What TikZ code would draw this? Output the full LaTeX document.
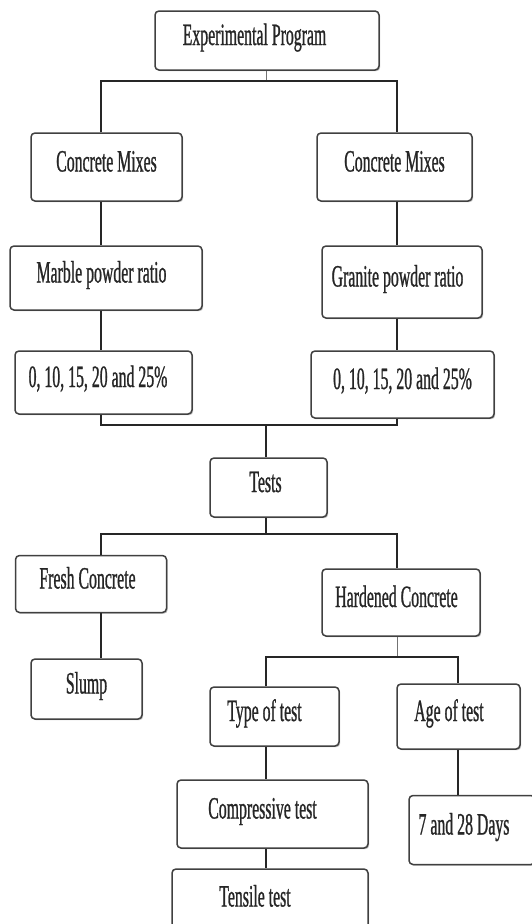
\documentclass[tikz,border=0pt]{standalone}
\usepackage{fontspec}
\setmainfont{Liberation Serif}[FakeStretch=0.51, FakeBold=0.8]
\usetikzlibrary{shadows}

\tikzset{
    box/.style={draw=black!75, line width=1.5pt, rounded corners=4pt, fill=white,
        text=black!85, font=\fontsize{31}{33}\selectfont,
        text height=19pt, text depth=10pt, inner sep=0pt,
        drop shadow={shadow xshift=1.2pt, shadow yshift=-1.2pt, fill=black!45, opacity=0.6}},
    link/.style={draw=black!85, line width=1.4pt},
    stub/.style={draw=black!55, line width=0.8pt},
}

\begin{document}
\begin{tikzpicture}[x=1pt, y=-1pt]
    \useasboundingbox (0,0) rectangle (531,924);

    \node[box, minimum width=224, minimum height=59] (prog) at (267,40.5) {Experimental Program\hspace*{25pt}};

    \node[box, minimum width=151, minimum height=68] (mixL) at (106.5,167) {Concrete Mixes};
    \node[box, minimum width=155, minimum height=68] (mixR) at (394.5,167) {Concrete Mixes};
    \node[box, minimum width=192, minimum height=64] (marble) at (106,278) {Marble powder ratio\hspace*{9pt}};
    \node[box, minimum width=160, minimum height=72] (granite) at (402,282) {Granite powder ratio\hspace*{9pt}};
    \node[box, minimum width=177, minimum height=63] (pctL) at (103.5,382.5) {0, 10, 15, 20 and 25\%\hspace*{11pt}};
    \node[box, minimum width=183, minimum height=67] (pctR) at (402.5,384.5) {0, 10, 15, 20 and 25\%};

    \node[box, minimum width=117, minimum height=59] (tests) at (268.5,487.5) {Tests\hspace*{6pt}};
    \node[box, minimum width=151, minimum height=57] (fresh) at (91,584) {Fresh Concrete\hspace*{7pt}};
    \node[box, minimum width=158, minimum height=67] (hard) at (401,602.5) {Hardened Concrete\hspace*{9pt}};
    \node[box, minimum width=111, minimum height=60] (slump) at (86.5,689) {Slump};

    \node[box, minimum width=129, minimum height=59] (typetest) at (274.5,716.5) {Type of test\hspace*{20pt}};
    \node[box, minimum width=123, minimum height=65] (age) at (458.5,716.5) {Age of test\hspace*{19pt}};
    \node[box, minimum width=191, minimum height=68] (comp) at (272.5,814) {Compressive test\hspace*{20pt}};
    \node[box, minimum width=126, minimum height=69] (days) at (472,830) {7 and 28 Days\hspace*{16pt}};
    \node[box, minimum width=196, minimum height=66] (tens) at (270,902) {Tensile test\hspace*{30pt}};

    % junctions
    \coordinate (tl) at (101,81);
    \coordinate (tr) at (397,81);
    \coordinate (jA) at (266,81);
    \coordinate (jB) at (266,425);
    \coordinate (jC) at (266,534);
    \coordinate (jD) at (397,657);
    \coordinate (tt) at (266,657);
    \coordinate (ta) at (458,657);

    \draw[stub] (prog.south -| jA) -- (jA);
    \draw[link] (mixL.north -| tl) |- (jA) -| (mixR.north -| tr);
    \draw[link] (mixL.south -| tl) -- (marble.north -| tl);
    \draw[link] (marble.south -| tl) -- (pctL.north -| tl);
    \draw[link] (mixR.south -| tr) -- (granite.north -| tr);
    \draw[link] (granite.south -| tr) -- (pctR.north -| tr);
    \draw[link] (pctL.south -| tl) |- (jB) -| (pctR.south -| tr);
    \draw[link] (jB) -- (tests.north -| jB);

    \draw[link] (tests.south -| jC) -- (jC);
    \draw[link] (fresh.north -| tl) |- (jC) -| (hard.north -| tr);
    \draw[link] (fresh.south -| tl) -- (slump.north -| tl);
    \draw[stub] (hard.south -| jD) -- (jD);
    \draw[link] (typetest.north -| tt) |- (ta) -- (age.north -| ta);
    \draw[link] (typetest.south -| tt) -- (comp.north -| tt);
    \draw[link] (comp.south -| tt) -- (tens.north -| tt);
    \draw[link] (age.south -| ta) -- (days.north -| ta);
\end{tikzpicture}
\end{document}
